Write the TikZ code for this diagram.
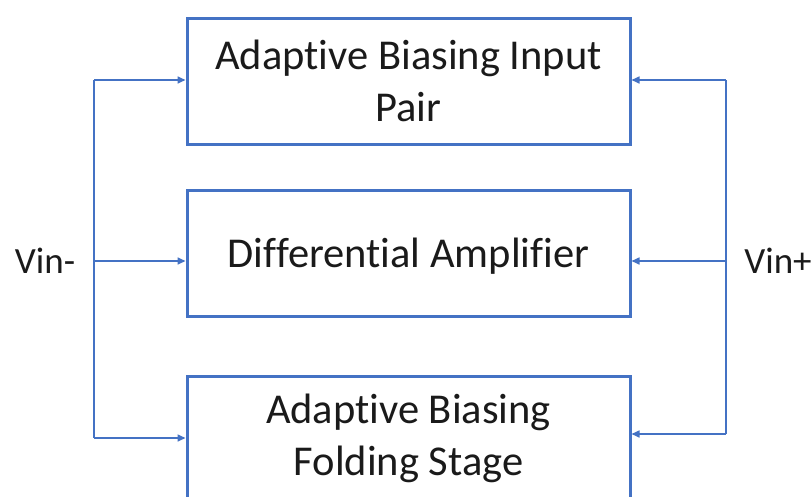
\documentclass[tikz,border=0pt]{standalone}
\usepackage{fontspec}
\setmainfont{Carlito}[Ligatures=NoCommon]
\usetikzlibrary{arrows.meta}
\definecolor{boxblue}{HTML}{4472C4}
\definecolor{txt}{HTML}{1A1A1A}
\begin{document}
\begin{tikzpicture}[x=1pt,y=-1pt,
  blockbox/.style={draw=boxblue,line width=3pt,minimum width=443pt,inner sep=0pt,
    align=center,font=\fontsize{42.5}{52}\selectfont,text=txt},
  conn/.style={draw=boxblue,line width=1.6pt,-{Triangle[length=8pt,width=7pt]}},
  bus/.style={draw=boxblue,line width=1.6pt},
  vlabel/.style={font=\fontsize{37}{44}\selectfont,text=txt}]
\useasboundingbox (0,0) rectangle (812,496);
\clip (0,0) rectangle (812,496);
\node[blockbox,minimum height=126pt] (top) at (408.5,81) {Adaptive Biasing Input\\Pair};
\node[blockbox,minimum height=126pt,text depth=0pt] (mid) at (408.5,253) {Differential Amplifier};
\node[blockbox,minimum height=124pt] (bot) at (408.5,438) {Adaptive Biasing\\Folding Stage};
\coordinate (lt) at (94,80);
\coordinate (lm) at (94,261);
\coordinate (lb) at (94,438);
\coordinate (rt) at (726,80);
\coordinate (rm) at (726,261);
\coordinate (rb) at (726,434);
\draw[bus] (lt) -- (lb);
\draw[bus] (rt) -- (rb);
\draw[conn] (lt) -- (lt -| top.west);
\draw[conn] (lm) -- (lm -| mid.west);
\draw[conn] (lb) -- (lb -| bot.west);
\draw[conn] (rt) -- (rt -| top.east);
\draw[conn] (rm) -- (rm -| mid.east);
\draw[conn] (rb) -- (rb -| bot.east);
\node[vlabel] (vm) at (45,261) {Vin-};
\node[vlabel] (vp) at (778,261) {Vin+};
\end{tikzpicture}
\end{document}
